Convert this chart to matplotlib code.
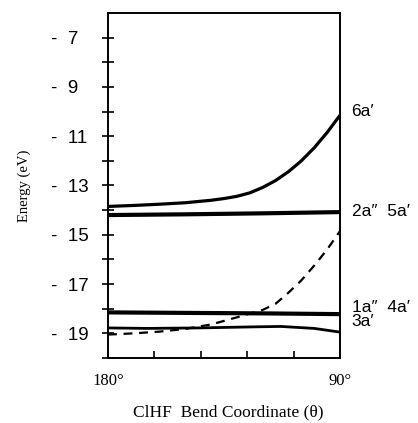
import matplotlib
matplotlib.use("Agg")
import matplotlib.pyplot as plt
import numpy as np

# bend angle (degrees) and orbital energies (eV)
theta_6a = [180, 170, 160, 150, 140, 135, 130, 125, 120, 115, 110, 105, 100, 95, 90]
e_6a = [-13.85, -13.81, -13.76, -13.70, -13.60, -13.53, -13.44, -13.30, -13.08,
        -12.80, -12.44, -12.00, -11.47, -10.85, -10.15]

theta_2a = [180, 150, 120, 90]
e_2a = [-14.20, -14.17, -14.13, -14.08]

theta_1a = [180, 150, 120, 90]
e_1a = [-18.15, -18.17, -18.19, -18.22]

theta_3a = [180, 165, 145, 125, 113, 100, 90]
e_3a = [-18.78, -18.80, -18.78, -18.74, -18.72, -18.80, -18.95]

theta_dash = [180, 170, 160, 150, 140, 130, 120, 115, 110, 105, 100, 95, 90]
e_dash = [-19.05, -19.00, -18.93, -18.82, -18.64, -18.35, -18.05, -17.80,
          -17.35, -16.85, -16.25, -15.60, -14.85]

labels = ["6a\u2032", "2a\u2033  5a\u2032", "1a\u2033  4a\u2032", "3a\u2032"]
label_e = [-10.0, -14.05, -17.95, -18.50]

y_major = [-7, -9, -11, -13, -15, -17, -19]
x_ticks = [180, 162, 144, 126, 108, 90]
x_ticklabels = ["180°", "", "", "", "", "90°"]

fig = plt.figure(figsize=(4.18, 4.23), dpi=100)
ax = fig.add_axes([0.2584, 0.1537, 0.555, 0.8156])

ax.plot(theta_6a, e_6a, color="k", lw=2.3, solid_capstyle="butt")
ax.plot(theta_2a, e_2a, color="k", lw=3.0, solid_capstyle="butt")
ax.plot(theta_1a, e_1a, color="k", lw=3.0, solid_capstyle="butt")
ax.plot(theta_3a, e_3a, color="k", lw=2.0, solid_capstyle="butt")
ax.plot(theta_dash, e_dash, color="k", lw=1.6, dashes=(4, 3))

ax.set_xlim(180, 90)
ax.set_ylim(-20, -6)

# y tick labels are left aligned, dash in one column
ax.set_yticks(y_major)
ax.set_yticklabels(["-  " + str(-v) for v in y_major], family="Liberation Sans",
                   fontsize=13.5, ha="left")
ax.set_yticks(np.arange(-20, -6, 2), minor=True)
ax.tick_params(axis="y", which="both", direction="inout", length=8, width=1.2, pad=37)

ax.set_xticks(x_ticks)
ax.set_xticklabels(x_ticklabels, family="Liberation Serif", fontsize=12)
ax.tick_params(axis="x", direction="in", length=5, width=1.2, pad=11)

for s in ax.spines.values():
    s.set_linewidth(1.4)

for txt, e in zip(labels, label_e):
    ax.text(1.05, e, txt, transform=ax.get_yaxis_transform(), family="Liberation Sans",
            fontsize=12.5, va="center", ha="left")

ax.set_xlabel("ClHF  Bend Coordinate (\u03b8)", family="Liberation Serif", fontsize=12.5)
ax.xaxis.set_label_coords(0.517, -0.135)
ax.set_ylabel("Energy (eV)", family="Liberation Serif", fontsize=10.5)
ax.yaxis.set_label_coords(-0.332, 0.5)

fig.savefig("out.png", dpi=100)
